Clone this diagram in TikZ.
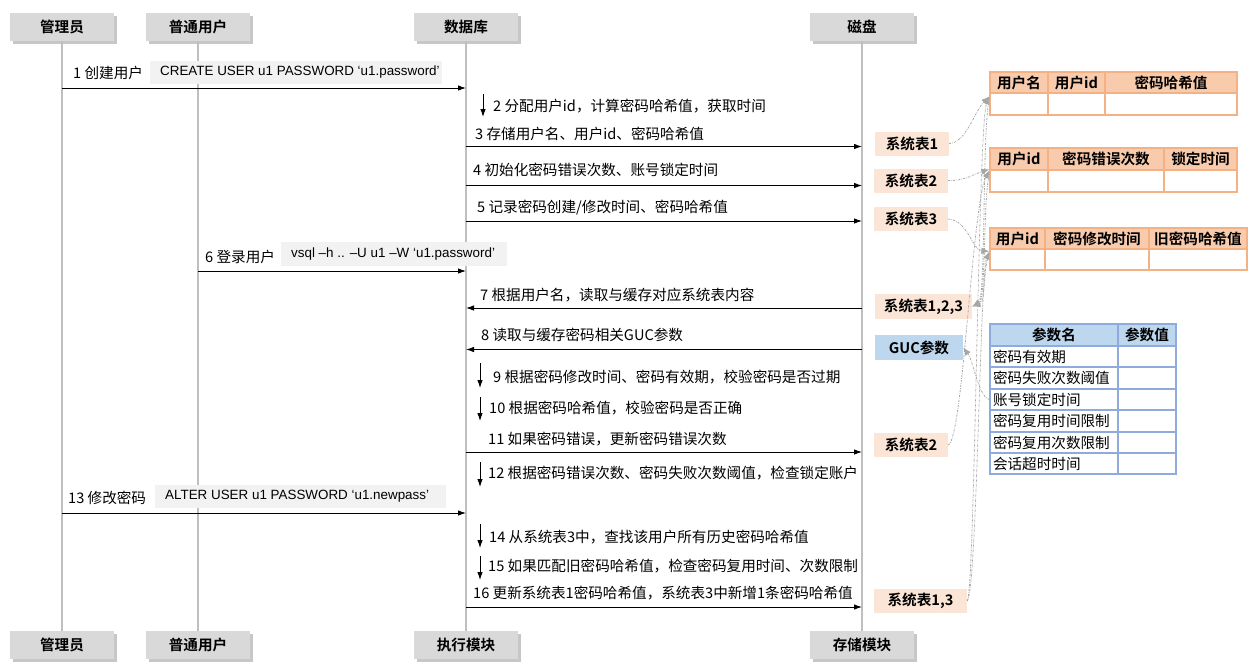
\documentclass[tikz,border=0pt]{standalone}
\usepackage{fontspec}
\setmainfont{Noto Sans CJK SC}[BoldFont={Noto Sans CJK SC Bold}]
\newfontfamily\latinfont{Liberation Sans}
\usetikzlibrary{arrows.meta,shadows}
\definecolor{hdrgray}{HTML}{D9D9D9}
\definecolor{lifegray}{HTML}{BFBFBF}
\definecolor{cmdgray}{HTML}{F2F2F2}
\definecolor{peach}{HTML}{FBE5D6}
\definecolor{gucblue}{HTML}{BDD7EE}
\definecolor{orhead}{HTML}{F8CBAD}
\definecolor{orline}{HTML}{F4B183}
\definecolor{blline}{HTML}{8FAADC}
\definecolor{conngray}{HTML}{A6A6A6}
\newcommand\myfs{\fontsize{14.6}{17}\selectfont}
\newcommand\cmdfs{\latinfont\fontsize{13.4}{16}\selectfont}
\newcommand\tcell[7]{%
  \pgfmathsetmacro\cellw{#4-#2}\pgfmathsetmacro\cellh{#5-#3}%
  \node[#6, minimum width=\cellw pt, minimum height=\cellh pt] (#1) at ({(#2+#4)/2},{(#3+#5)/2}) {#7};}
\newcommand\lcell[7]{%
  \pgfmathsetmacro\cellw{#4-#2}\pgfmathsetmacro\cellh{#5-#3}\pgfmathsetmacro\cellt{#4-#2-6}%
  \node[#6, minimum width=\cellw pt, minimum height=\cellh pt, inner xsep=3pt] (#1) at ({(#2+#4)/2},{(#3+#5)/2}) {\makebox[\cellt pt][l]{#7}};}
\begin{document}
\begin{tikzpicture}[x=1pt,y=-1pt,
  hdrbox/.style={fill=hdrgray, minimum width=104pt, minimum height=28pt, inner sep=0pt, font=\myfs\bfseries,
    drop shadow={shadow xshift=2.5pt, shadow yshift=-2.5pt, fill=black, opacity=0.22}},
  life/.style={draw=lifegray, line width=1.2pt},
  msg/.style={-{Latex[length=8pt,width=5.5pt]}, line width=0.9pt, black},
  lbl/.style={anchor=west, inner sep=0pt, font=\myfs},
  cmdbox/.style={anchor=west, fill=cmdgray, inner xsep=10pt, inner ysep=0pt, minimum height=23pt, font=\cmdfs},
  stbox/.style={fill=peach, minimum height=24pt, inner sep=0pt, font=\myfs\bfseries},
  gucbox/.style={fill=gucblue, minimum height=25pt, inner sep=0pt, font=\myfs\bfseries},
  thcell/.style={draw=orline, fill=orhead, line width=1.3pt, inner sep=0pt, font=\myfs\bfseries},
  tbcell/.style={draw=orline, fill=white, line width=1.3pt, inner sep=0pt},
  bhcell/.style={draw=blline, fill=gucblue, line width=1.3pt, inner sep=0pt, font=\myfs\bfseries},
  bbcell/.style={draw=blline, fill=white, line width=1.3pt, inner sep=0pt, font=\myfs},
  conn/.style={draw=conngray, line width=0.8pt, dash pattern=on 2pt off 1.2pt on 0.6pt off 1.2pt,
    -{Latex[length=8pt,width=6.5pt,fill=conngray]}}
]
\useasboundingbox (0,0) rectangle (1257,670);

% lifeline headers and footers
\node[hdrbox] (hA) at (62,27) {管理员};
\node[hdrbox] (hU) at (198,27) {普通用户};
\node[hdrbox] (hD) at (466,27) {数据库};
\node[hdrbox] (hS) at (862,27) {磁盘};
\node[hdrbox] (fA) at (62,645) {管理员};
\node[hdrbox] (fU) at (198,645) {普通用户};
\node[hdrbox] (fD) at (466,645) {执行模块};
\node[hdrbox] (fS) at (862,645) {存储模块};

\draw[life] (hA.south) -- (fA.north);
\draw[life] (hU.south) -- (fU.north);
\draw[life] (hD.south) -- (fD.north);
\draw[life] (hS.south) -- (fS.north);

% 1
\node[lbl] (l1) at (73,73) {1 创建用户};
\node[cmdbox] (c1) at (150,72.5) {\makebox[272pt][l]{CREATE USER u1 PASSWORD ‘u1.password’}};
\draw[msg] (hA.south |- 0,88) -- (hD.south |- 0,88);
% 2
\node[lbl] (l2) at (493,106) {2 分配用户id，计算密码哈希值，获取时间};
\draw[msg] ([xshift=-10pt]l2.west |- 0,94) -- ++(0,23);
% 3
\node[lbl] (l3) at (475,134) {3 存储用户名、用户id、密码哈希值};
\draw[msg] (hD.south |- 0,146.5) -- (hS.south |- 0,146.5);
% 4
\node[lbl] (l4) at (473,170) {4 初始化密码错误次数、账号锁定时间};
\draw[msg] (hD.south |- 0,185.5) -- (hS.south |- 0,185.5);
% 5
\node[lbl] (l5) at (477,208) {5 记录密码创建/修改时间、密码哈希值};
\draw[msg] (hD.south |- 0,221) -- (hS.south |- 0,221);
% 6
\node[lbl] (l6) at (205,257) {6 登录用户};
\node[cmdbox, minimum height=24pt] (c6) at (281,254) {\makebox[206pt][l]{vsql –h .. –U u1 –W ‘u1.password’}};
\draw[msg] (hU.south |- 0,271) -- (hD.south |- 0,271);
% 7
\node[lbl] (l7) at (480,295) {7 根据用户名，读取与缓存对应系统表内容};
\draw[msg] (hS.south |- 0,308) -- (hD.south |- 0,308);
% 8
\node[lbl] (l8) at (481,335) {8 读取与缓存密码相关GUC参数};
\draw[msg] (hS.south |- 0,349.5) -- (hD.south |- 0,349.5);
% 9
\node[lbl] (l9) at (493,377) {9 根据密码修改时间、密码有效期，校验密码是否过期};
\draw[msg] (480,363) -- (480,388);
% 10
\node[lbl] (l10) at (489,408) {10 根据密码哈希值，校验密码是否正确};
\draw[msg] (480,397) -- (480,421);
% 11
\node[lbl] (l11) at (488,439) {11 如果密码错误，更新密码错误次数};
\draw[msg] (hD.south |- 0,452) -- (hS.south |- 0,452);
% 12
\node[lbl] (l12) at (488,473) {12 根据密码错误次数、密码失败次数阈值，检查锁定账户};
\draw[msg] (480,462) -- (480,487);
% 13
\node[lbl] (l13) at (68,498) {13 修改密码};
\node[cmdbox] (c13) at (155,496.5) {\makebox[271pt][l]{ALTER USER u1 PASSWORD ‘u1.newpass’}};
\draw[msg] (hA.south |- 0,513) -- (hD.south |- 0,513);
% 14
\node[lbl] (l14) at (489,537) {14 从系统表3中，查找该用户所有历史密码哈希值};
\draw[msg] (480,524) -- (480,548);
% 15
\node[lbl] (l15) at (488,566) {15 如果匹配旧密码哈希值，检查密码复用时间、次数限制};
\draw[msg] (480,556) -- (480,580);
% 16
\node[lbl] (l16) at (473,593) {16 更新系统表1密码哈希值，系统表3中新增1条密码哈希值};
\draw[msg] (hD.south |- 0,607) -- (hS.south |- 0,607);

% storage labels
\node[stbox, minimum width=74pt] (st1) at (912,143.5) {系统表1};
\node[stbox, minimum width=74pt] (st2) at (911,180.5) {系统表2};
\node[stbox, minimum width=74pt] (st3) at (911,219) {系统表3};
\node[stbox, minimum width=97pt, minimum height=25pt] (st123) at (923.5,306.5) {系统表1,2,3};
\node[gucbox, minimum width=88pt] (guc) at (919,347.5) {GUC参数};
\node[stbox, minimum width=74pt] (st2b) at (911,445) {系统表2};
\node[stbox, minimum width=93pt] (st13) at (920.5,601) {系统表1,3};

% table 1
\tcell{t1h1}{990}{72}{1048}{93}{thcell}{用户名}
\tcell{t1h2}{1048}{72}{1105}{93}{thcell}{用户id}
\tcell{t1h3}{1105}{72}{1237}{93}{thcell}{密码哈希值}
\tcell{t1b1}{990}{93}{1048}{115}{tbcell}{}
\tcell{t1b2}{1048}{93}{1105}{115}{tbcell}{}
\tcell{t1b3}{1105}{93}{1237}{115}{tbcell}{}
% table 2
\tcell{t2h1}{990}{148}{1048}{170}{thcell}{用户id}
\tcell{t2h2}{1048}{148}{1164}{170}{thcell}{密码错误次数}
\tcell{t2h3}{1164}{148}{1237}{170}{thcell}{锁定时间}
\tcell{t2b1}{990}{170}{1048}{192}{tbcell}{}
\tcell{t2b2}{1048}{170}{1164}{192}{tbcell}{}
\tcell{t2b3}{1164}{170}{1237}{192}{tbcell}{}
% table 3
\tcell{t3h1}{990}{228}{1045}{249}{thcell}{用户id}
\tcell{t3h2}{1045}{228}{1149}{249}{thcell}{密码修改时间}
\tcell{t3h3}{1149}{228}{1247}{249}{thcell}{旧密码哈希值}
\tcell{t3b1}{990}{249}{1045}{270}{tbcell}{}
\tcell{t3b2}{1045}{249}{1149}{270}{tbcell}{}
\tcell{t3b3}{1149}{249}{1247}{270}{tbcell}{}
% GUC table
\tcell{gh1}{990}{324}{1118}{346}{bhcell}{参数名}
\tcell{gh2}{1118}{324}{1176}{346}{bhcell}{参数值}
\lcell{g1}{990}{346}{1118}{367}{bbcell}{密码有效期}
\tcell{g1v}{1118}{346}{1176}{367}{bbcell}{}
\lcell{g2}{990}{367}{1118}{389}{bbcell}{密码失败次数阈值}
\tcell{g2v}{1118}{367}{1176}{389}{bbcell}{}
\lcell{g3}{990}{389}{1118}{410}{bbcell}{账号锁定时间}
\tcell{g3v}{1118}{389}{1176}{410}{bbcell}{}
\lcell{g4}{990}{410}{1118}{432}{bbcell}{密码复用时间限制}
\tcell{g4v}{1118}{410}{1176}{432}{bbcell}{}
\lcell{g5}{990}{432}{1118}{453}{bbcell}{密码复用次数限制}
\tcell{g5v}{1118}{432}{1176}{453}{bbcell}{}
\lcell{g6}{990}{453}{1118}{474}{bbcell}{会话超时时间}
\tcell{g6v}{1118}{453}{1176}{474}{bbcell}{}

% dotted connectors
\draw[conn] (st1.east) .. controls (966,143) and (974,112) .. ([yshift=-4pt]t1b1.north west);
\draw[conn] (st2.east) .. controls (965,181) and (974,174) .. (t2b1.north west);
\draw[conn] (st3.east) .. controls (968,220) and (972,250) .. ([yshift=-3pt]t3b1.north west);
\draw[conn] ([yshift=-6pt]t1b1.north west) .. controls (982,130) and (986,298) .. (st123.east);
\draw[conn] ([yshift=-4pt]t2b1.north west) .. controls (983,200) and (986,300) .. (st123.east);
\draw[conn] ([yshift=-6pt]t3b1.north west) .. controls (983,265) and (986,302) .. (st123.east);
\draw[conn] (g3.west) .. controls (978,396) and (974,362) .. (guc.east);
\draw[conn] (st2b.east) .. controls (963,440) and (972,205) .. ([yshift=-1pt]t2b1.north west);
\draw[conn] (st13.east) .. controls (975,592) and (978,125) .. ([yshift=-4pt]t1b1.north west);
\draw[conn] (st13.east) .. controls (977,592) and (980,275) .. ([yshift=-3pt]t3b1.north west);
\end{tikzpicture}
\end{document}
